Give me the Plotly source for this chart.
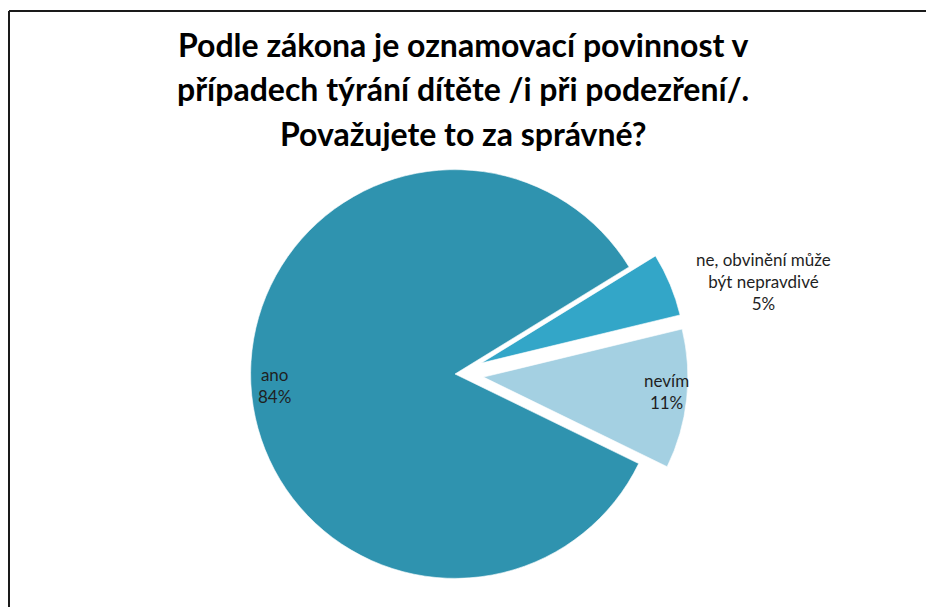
import plotly.graph_objects as go

# Survey answers and their shares (%)
labels = ["ano", "ne, obvinění může<br>být nepravdivé", "nevím"]
values = [84, 5, 11]
colors = ["#2f93af", "#33a6c8", "#a4d0e2"]
pulls = [0, 0.14, 0.14]

title_lines = [
    "Podle zákona je oznamovací povinnost v",
    "případech týrání dítěte /i při podezření/.",
    "Považujete to za správné?",
]

W, H = 926, 607
cx, cy = 455, 374          # pie centre in pixels
half = H - cy              # half-size of the pie box

fig = go.Figure(go.Pie(
    labels=labels,
    values=values,
    sort=False,
    direction="clockwise",
    rotation=116,
    pull=pulls,
    marker=dict(colors=colors, line=dict(color="rgba(255,255,255,0.6)", width=1)),
    textinfo="none",
    hoverinfo="label+percent",
    showlegend=False,
    domain=dict(x=[(cx - half) / W, (cx + half) / W],
                y=[0, (2 * half) / H]),
))

# Data labels: category name + percentage
total = sum(values)
label_pos = [(274, 385), (763, 281), (666, 392)]
annotations = []
for lab, v, (px, py) in zip(labels, values, label_pos):
    annotations.append(dict(
        x=px / W, y=1 - py / H, xref="paper", yref="paper",
        xanchor="center", yanchor="middle",
        text=f"{lab}<br>{round(100 * v / total)}%",
        showarrow=False, align="center",
        font=dict(family="Lato, 'Open Sans', sans-serif", size=17, color="#1f1f1f"),
    ))

# Title, one line at a time
for i, line in enumerate(title_lines):
    annotations.append(dict(
        x=463 / W, y=1 - (45 + 44 * i) / H, xref="paper", yref="paper",
        xanchor="center", yanchor="middle",
        text=f"<b>{line}</b>", showarrow=False,
        font=dict(family="Lato, 'Open Sans', sans-serif", size=32, color="#000000"),
    ))

# Chart-area frame: only the left and top edges fall inside the page
frame = dict(color="#1a1a1a", width=2)
shapes = [
    dict(type="line", xref="paper", yref="paper",
         x0=9 / W, x1=9 / W, y0=0, y1=1 - 11 / H, line=frame),
    dict(type="line", xref="paper", yref="paper",
         x0=9 / W, x1=1, y0=1 - 11 / H, y1=1 - 11 / H, line=frame),
]

fig.update_layout(
    width=W, height=H,
    margin=dict(l=0, r=0, t=0, b=0),
    paper_bgcolor="white",
    plot_bgcolor="white",
    annotations=annotations,
    shapes=shapes,
)

fig.write_html("out.html")
